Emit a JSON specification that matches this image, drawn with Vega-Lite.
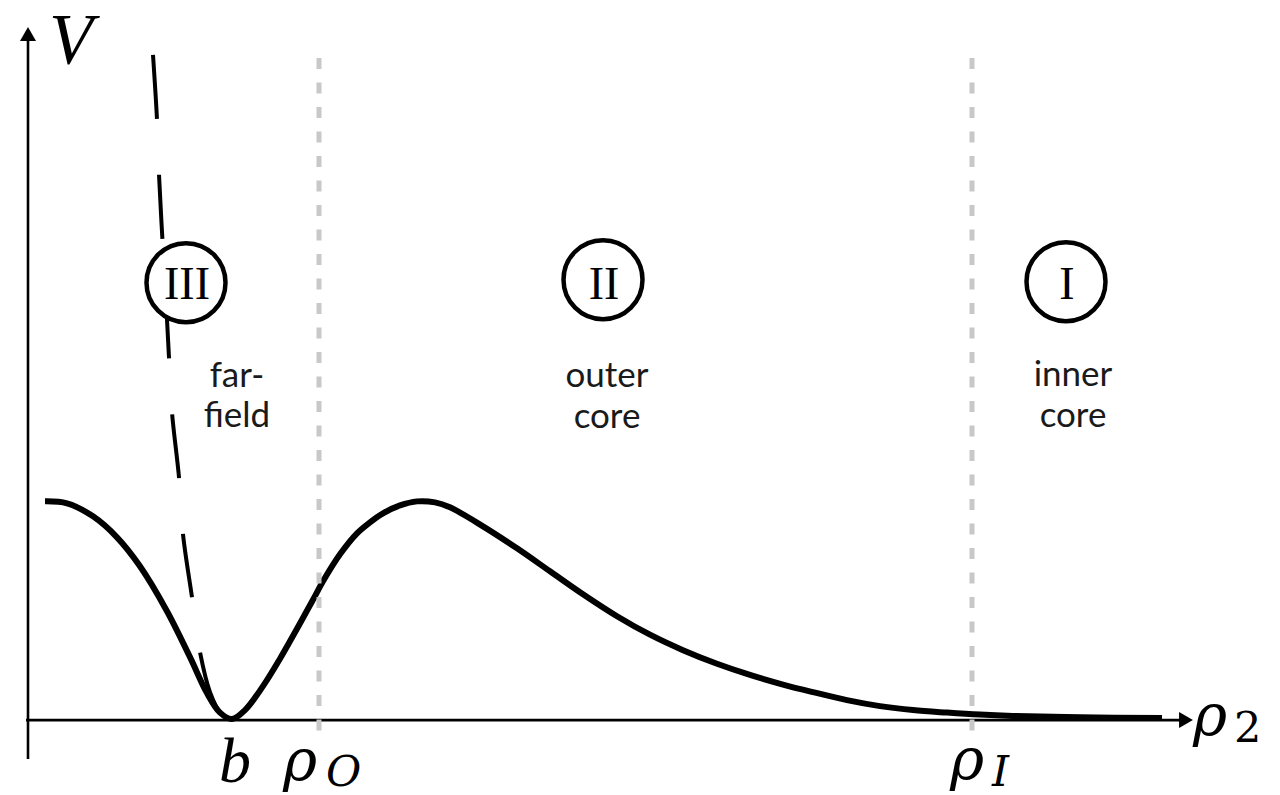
{
  "$schema": "https://vega.github.io/schema/vega-lite/v6.json",
  "width": 1280,
  "height": 795,
  "autosize": {"type": "fit", "contains": "padding"},
  "padding": 0,
  "background": "white",
  "config": {"view": {"stroke": null}},
  "datasets": {
    "axes": [
      {"rho": 0, "V": -0.39, "rho2": 0, "V2": 6.87},
      {"rho": -0.02, "V": 0, "rho2": 11.58, "V2": 0}
    ],
    "arrowUp": [{"rho": 0, "V": 6.87}],
    "arrowRight": [{"rho": 11.58, "V": 0}],
    "potential": [
      {"rho": 0.17, "V": 2.19}, {"rho": 0.39, "V": 2.17}, {"rho": 0.65, "V": 2.04},
      {"rho": 0.89, "V": 1.83}, {"rho": 1.12, "V": 1.54}, {"rho": 1.39, "V": 1.09},
      {"rho": 1.62, "V": 0.63}, {"rho": 1.79, "V": 0.27}, {"rho": 1.92, "V": 0.075},
      {"rho": 2.04, "V": 0.01}, {"rho": 2.17, "V": 0.10}, {"rho": 2.35, "V": 0.34},
      {"rho": 2.52, "V": 0.615}, {"rho": 2.69, "V": 0.915}, {"rho": 2.85, "V": 1.205},
      {"rho": 2.95, "V": 1.39}, {"rho": 3.12, "V": 1.66}, {"rho": 3.29, "V": 1.87},
      {"rho": 3.42, "V": 1.98}, {"rho": 3.55, "V": 2.07}, {"rho": 3.72, "V": 2.15},
      {"rho": 3.89, "V": 2.19}, {"rho": 4.07, "V": 2.18}, {"rho": 4.22, "V": 2.13},
      {"rho": 4.55, "V": 1.94}, {"rho": 4.89, "V": 1.72}, {"rho": 5.22, "V": 1.49},
      {"rho": 5.55, "V": 1.26}, {"rho": 5.89, "V": 1.04}, {"rho": 6.22, "V": 0.855},
      {"rho": 6.55, "V": 0.70}, {"rho": 6.89, "V": 0.564}, {"rho": 7.22, "V": 0.452},
      {"rho": 7.55, "V": 0.356}, {"rho": 7.85, "V": 0.28}, {"rho": 8.19, "V": 0.20},
      {"rho": 8.52, "V": 0.14}, {"rho": 8.85, "V": 0.10}, {"rho": 9.19, "V": 0.075},
      {"rho": 9.52, "V": 0.055}, {"rho": 9.85, "V": 0.042}, {"rho": 10.52, "V": 0.028},
      {"rho": 11.34, "V": 0.02}
    ],
    "farfield": [
      {"rho": 1.25, "V": 6.66}, {"rho": 1.29, "V": 6.01}, {"rho": 1.31, "V": 5.46},
      {"rho": 1.35, "V": 4.71}, {"rho": 1.39, "V": 4.01}, {"rho": 1.41, "V": 3.63},
      {"rho": 1.44, "V": 3.08}, {"rho": 1.51, "V": 2.43}, {"rho": 1.55, "V": 1.86},
      {"rho": 1.64, "V": 1.23}, {"rho": 1.72, "V": 0.68}, {"rho": 1.82, "V": 0.28},
      {"rho": 1.92, "V": 0.08}, {"rho": 2.03, "V": 0.01}
    ],
    "boundaries": [
      {"rho": 2.91, "V": 6.63, "V2": -0.21},
      {"rho": 9.44, "V": 6.63, "V2": -0.21}
    ],
    "regions": [
      {"rho": 1.58, "V": 4.38, "label": "III"},
      {"rho": 5.75, "V": 4.41, "label": "II"},
      {"rho": 10.38, "V": 4.39, "label": "I"}
    ],
    "numerals": [
      {"rho": 1.59, "V": 4.22, "label": "III"},
      {"rho": 5.76, "V": 4.22, "label": "II"},
      {"rho": 10.39, "V": 4.22, "label": "I"}
    ],
    "regionNames": [
      {"rho": 2.09, "V": 3.34, "label": "far-"},
      {"rho": 2.09, "V": 2.93, "label": "field"},
      {"rho": 5.79, "V": 3.34, "label": "outer"},
      {"rho": 5.79, "V": 2.92, "label": "core"},
      {"rho": 10.45, "V": 3.35, "label": "inner"},
      {"rho": 10.45, "V": 2.93, "label": "core"}
    ],
    "vLabel": [{"rho": 0.43, "V": 6.58, "label": "V"}],
    "bLabel": [{"rho": 2.07, "V": -0.62, "label": "b"}],
    "rhoLabels": [
      {"rho": 2.55, "V": -0.60, "label": "ρ"},
      {"rho": 9.22, "V": -0.59, "label": "ρ"},
      {"rho": 11.65, "V": -0.15, "label": "ρ"}
    ],
    "subLetters": [
      {"rho": 2.98, "V": -0.66, "label": "O"},
      {"rho": 9.64, "V": -0.66, "label": "I"}
    ],
    "subDigit": [{"rho": 12.06, "V": -0.22, "label": "2"}]
  },
  "layer": [
    {
      "data": {"name": "axes"},
      "mark": {"type": "rule", "stroke": "black", "strokeWidth": 2.6},
      "encoding": {
        "x": {"field": "rho", "type": "quantitative", "axis": null, "scale": {"domain": [-0.28, 12.52], "nice": false, "zero": false}},
        "y": {"field": "V", "type": "quantitative", "axis": null, "scale": {"domain": [-0.74, 7.21], "nice": false, "zero": false}},
        "x2": {"field": "rho2"},
        "y2": {"field": "V2"}
      }
    },
    {
      "data": {"name": "arrowUp"},
      "mark": {"type": "point", "shape": "triangle-up", "filled": true, "fill": "black", "stroke": null, "size": 256, "opacity": 1},
      "encoding": {
        "x": {"field": "rho", "type": "quantitative", "axis": null},
        "y": {"field": "V", "type": "quantitative", "axis": null}
      }
    },
    {
      "data": {"name": "arrowRight"},
      "mark": {"type": "point", "shape": "triangle-right", "filled": true, "fill": "black", "stroke": null, "size": 256, "opacity": 1},
      "encoding": {
        "x": {"field": "rho", "type": "quantitative", "axis": null},
        "y": {"field": "V", "type": "quantitative", "axis": null}
      }
    },
    {
      "data": {"name": "potential"},
      "mark": {"type": "line", "stroke": "black", "strokeWidth": 6, "interpolate": "catmull-rom", "strokeCap": "butt"},
      "encoding": {
        "x": {"field": "rho", "type": "quantitative", "axis": null},
        "y": {"field": "V", "type": "quantitative", "axis": null}
      }
    },
    {
      "data": {"name": "farfield"},
      "mark": {"type": "line", "stroke": "black", "strokeWidth": 4, "interpolate": "catmull-rom", "strokeDash": [64, 56], "strokeCap": "butt"},
      "encoding": {
        "x": {"field": "rho", "type": "quantitative", "axis": null},
        "y": {"field": "V", "type": "quantitative", "axis": null}
      }
    },
    {
      "data": {"name": "boundaries"},
      "mark": {"type": "rule", "stroke": "#c8c8c8", "strokeWidth": 5, "strokeDash": [11, 13.5]},
      "encoding": {
        "x": {"field": "rho", "type": "quantitative", "axis": null},
        "y": {"field": "V", "type": "quantitative", "axis": null},
        "y2": {"field": "V2"}
      }
    },
    {
      "data": {"name": "regions"},
      "mark": {"type": "point", "shape": "circle", "filled": false, "fill": "white", "fillOpacity": 1, "stroke": "black", "strokeWidth": 4.5, "size": 6241, "opacity": 1},
      "encoding": {
        "x": {"field": "rho", "type": "quantitative", "axis": null},
        "y": {"field": "V", "type": "quantitative", "axis": null}
      }
    },
    {
      "data": {"name": "numerals"},
      "mark": {"type": "text", "font": "Liberation Serif", "fontSize": 46, "align": "center", "baseline": "alphabetic", "color": "black"},
      "encoding": {
        "x": {"field": "rho", "type": "quantitative", "axis": null},
        "y": {"field": "V", "type": "quantitative", "axis": null},
        "text": {"field": "label", "type": "nominal"}
      }
    },
    {
      "data": {"name": "regionNames"},
      "mark": {"type": "text", "font": "Lato", "fontSize": 35, "align": "center", "baseline": "alphabetic", "color": "#1a1a1a"},
      "encoding": {
        "x": {"field": "rho", "type": "quantitative", "axis": null},
        "y": {"field": "V", "type": "quantitative", "axis": null},
        "text": {"field": "label", "type": "nominal"}
      }
    },
    {
      "data": {"name": "vLabel"},
      "mark": {"type": "text", "font": "Liberation Serif", "fontStyle": "italic", "fontSize": 72, "align": "center", "baseline": "alphabetic", "color": "black"},
      "encoding": {
        "x": {"field": "rho", "type": "quantitative", "axis": null},
        "y": {"field": "V", "type": "quantitative", "axis": null},
        "text": {"field": "label", "type": "nominal"}
      }
    },
    {
      "data": {"name": "bLabel"},
      "mark": {"type": "text", "font": "Liberation Serif", "fontStyle": "italic", "fontSize": 64, "align": "center", "baseline": "alphabetic", "color": "black"},
      "encoding": {
        "x": {"field": "rho", "type": "quantitative", "axis": null},
        "y": {"field": "V", "type": "quantitative", "axis": null},
        "text": {"field": "label", "type": "nominal"}
      }
    },
    {
      "data": {"name": "rhoLabels"},
      "mark": {"type": "text", "font": "DejaVu Serif", "fontStyle": "italic", "fontSize": 58, "align": "left", "baseline": "alphabetic", "color": "black"},
      "encoding": {
        "x": {"field": "rho", "type": "quantitative", "axis": null},
        "y": {"field": "V", "type": "quantitative", "axis": null},
        "text": {"field": "label", "type": "nominal"}
      }
    },
    {
      "data": {"name": "subLetters"},
      "mark": {"type": "text", "font": "DejaVu Serif", "fontStyle": "italic", "fontSize": 43, "align": "left", "baseline": "alphabetic", "color": "black"},
      "encoding": {
        "x": {"field": "rho", "type": "quantitative", "axis": null},
        "y": {"field": "V", "type": "quantitative", "axis": null},
        "text": {"field": "label", "type": "nominal"}
      }
    },
    {
      "data": {"name": "subDigit"},
      "mark": {"type": "text", "font": "DejaVu Serif", "fontSize": 43, "align": "left", "baseline": "alphabetic", "color": "black"},
      "encoding": {
        "x": {"field": "rho", "type": "quantitative", "axis": null},
        "y": {"field": "V", "type": "quantitative", "axis": null},
        "text": {"field": "label", "type": "nominal"}
      }
    }
  ]
}
